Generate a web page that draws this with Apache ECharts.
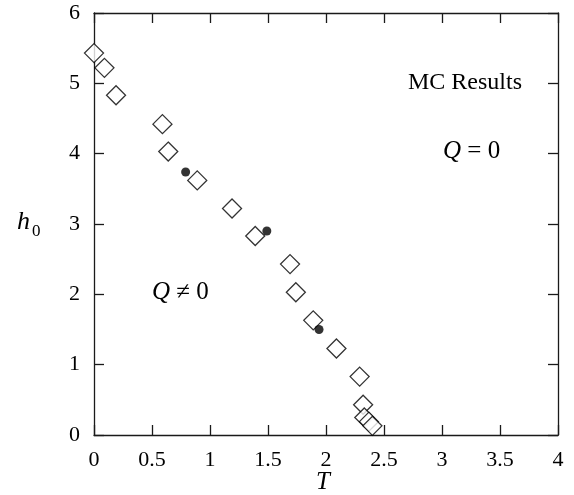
<!DOCTYPE html>
<html>
<head>
<meta charset="utf-8">
<script src="https://cdn.jsdelivr.net/npm/echarts@6/dist/echarts.min.js"></script>
<style>
html, body { margin: 0; padding: 0; background: #fff; }
#panel { width: 574px; height: 495px; }
</style>
</head>
<body>
<div id="panel"></div>
<script>
// MC diamonds (open) and filled dots
var diamondT = [0.00, 0.09, 0.19, 0.59, 0.64, 0.89, 1.19, 1.39, 1.69, 1.74, 1.89, 2.09, 2.29, 2.32, 2.33, 2.37, 2.40];
var diamondH = [5.43, 5.22, 4.83, 4.42, 4.03, 3.62, 3.22, 2.83, 2.43, 2.03, 1.63, 1.23, 0.83, 0.43, 0.25, 0.19, 0.13];
var dotT = [0.79, 1.49, 1.94];
var dotH = [3.74, 2.90, 1.50];

var serif = '"Liberation Serif", "DejaVu Serif", serif';

function zip(a, b) {
    return a.map(function (v, i) { return [v, b[i]]; });
}

var chartDom = document.getElementById('panel');
var myChart = echarts.init(chartDom);

var lineStyle = { color: '#1a1a1a', width: 1.3 };
var tick = { show: true, inside: true, length: 10, lineStyle: lineStyle };

/** 坐标轴 */
function axis(pos, max, interval, labels) {
    return {
        type: 'value',
        position: pos,
        min: 0,
        max: max,
        interval: interval,
        axisLine: { show: true, onZero: false, lineStyle: lineStyle },
        axisTick: tick,
        splitLine: { show: false },
        axisLabel: {
            show: labels,
            color: '#000',
            fontFamily: serif,
            fontSize: 22,
            margin: 14
        }
    };
}

var italic = { fontStyle: 'italic', fontFamily: serif, fontSize: 25 };

myChart.setOption({
    animation: false,
    grid: { left: 94, right: 16, top: 13, bottom: 60 },
    xAxis: [axis('bottom', 4, 0.5, true), axis('top', 4, 0.5, false)],
    yAxis: [axis('left', 6, 1, true), axis('right', 6, 1, false)],
    series: [
        {
            type: 'scatter',
            symbol: 'diamond',
            symbolSize: 19,
            itemStyle: { color: '#fff', borderColor: '#000', borderWidth: 1.3 },
            data: zip(diamondT, diamondH)
        },
        {
            type: 'scatter',
            symbol: 'circle',
            symbolSize: 9,
            itemStyle: { color: '#000' },
            data: zip(dotT, dotH)
        }
    ],
    graphic: [
        { type: 'text', left: 408, top: 71, style: { text: 'MC Results', font: '24px ' + serif, fill: '#000' } },
        {
            type: 'text', left: 443, top: 139,
            style: { text: '{i|Q} = 0', font: '25px ' + serif, fill: '#000', rich: { i: italic } }
        },
        {
            type: 'text', left: 152, top: 280,
            style: { text: '{i|Q} \u2260 0', font: '25px ' + serif, fill: '#000', rich: { i: italic } }
        },
        { type: 'text', left: 17, top: 209, style: { text: 'h', font: 'italic 26px ' + serif, fill: '#000' } },
        { type: 'text', left: 32, top: 223, style: { text: '0', font: '17px ' + serif, fill: '#000' } },
        { type: 'text', left: 316, top: 470, style: { text: 'T', font: 'italic 25px ' + serif, fill: '#000' } }
    ]
});
</script>
</body>
</html>
